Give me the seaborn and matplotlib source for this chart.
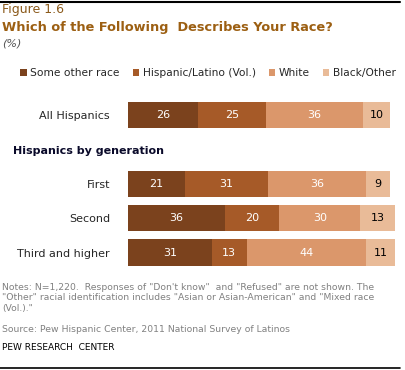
import numpy as np
import pandas as pd
import seaborn as sns
import matplotlib.pyplot as plt
from matplotlib.patches import Patch
from matplotlib.lines import Line2D

# dados
grupos = ["All Hispanics", "", "First", "Second", "Third and higher"]
categorias = ["Some other race", "Hispanic/Latino (Vol.)", "White", "Black/Other"]
some_other = [26, np.nan, 21, 36, 31]
hispanic_latino = [25, np.nan, 31, 20, 13]
white = [36, np.nan, 36, 30, 44]
black_other = [10, np.nan, 9, 13, 11]

cores = ["#7B421D", "#A65A28", "#DB976B", "#E9BB98"]
cor_texto = ["white", "white", "white", "black"]

df = pd.DataFrame({"grupo": grupos,
                   categorias[0]: some_other,
                   categorias[1]: hispanic_latino,
                   categorias[2]: white,
                   categorias[3]: black_other})
acum = df[categorias].cumsum(axis=1)

sns.set_style("white")
plt.rcParams['font.family'] = ['DejaVu Sans']

fig = plt.figure(figsize=(4.05, 3.70), dpi=100)
W, H = 405, 370
ax = fig.add_axes([128 / W, 1 - 269.7 / H, 270 / W, 171.9 / H])

# barras empilhadas: desenha do total acumulado maior para o menor
for i in range(len(categorias) - 1, -1, -1):
    sns.barplot(x=acum[categorias[i]], y=df["grupo"], order=grupos, orient="h",
                color=cores[i], width=0.77, saturation=1, linewidth=0, ax=ax)

for i, cat in enumerate(categorias):
    for j, v in enumerate(df[cat]):
        if np.isnan(v):
            continue
        centro = acum[cat][j] - v / 2
        ax.text(centro, j, f"{v:.0f}", ha="center", va="center",
                color=cor_texto[i], fontsize=8)

ax.set_xlim(0, 100)
ax.set_ylim(4.5, -0.5)
ax.set_xlabel("")
ax.set_ylabel("")
ax.set_xticks([])
ax.tick_params(axis="y", length=0, pad=13, labelsize=8)
for s in ax.spines.values():
    s.set_visible(False)

# títulos
fig.text(2 / W, 1 - 10 / H, "Figure 1.6", color="#8B5A1B", fontsize=9, va="center")
fig.text(2 / W, 1 - 28 / H, "Which of the Following  Describes Your Race?",
         color="#9C5F12", fontsize=9.3, fontweight="bold", va="center")
fig.text(2 / W, 1 - 43 / H, "(%)", color="#555555", fontsize=8, style="italic", va="center")
fig.text(13 / W, 1 - 151 / H, "Hispanics by generation", color="#0A0A2A",
         fontsize=8, fontweight="bold", va="center")

# legenda
handles = [Patch(facecolor=c, edgecolor="none") for c in cores]
fig.legend(handles, categorias, loc="center", bbox_to_anchor=(208 / W, 1 - 73 / H),
           ncol=4, frameon=False, fontsize=7.7, handlelength=0.6, handleheight=0.6,
           handletextpad=0.3, columnspacing=1.25)

# notas
cinza = "#808080"
fig.text(2 / W, 1 - 283 / H,
         "Notes: N=1,220.  Responses of \"Don't know\"  and \"Refused\" are not shown. The\n"
         "\"Other\" racial identification includes \"Asian or Asian-American\" and \"Mixed race\n"
         "(Vol.).\"",
         color=cinza, fontsize=6.7, va="top", linespacing=1.2)
fig.text(2 / W, 1 - 329 / H, "Source: Pew Hispanic Center, 2011 National Survey of Latinos",
         color=cinza, fontsize=6.7, va="center")
fig.text(2 / W, 1 - 348 / H, "PEW RESEARCH  CENTER", color="black", fontsize=6.5, va="center")

# linhas de topo e rodapé
fig.add_artist(Line2D([0, 400 / W], [1 - 1.5 / H, 1 - 1.5 / H], color="black", lw=1.5))
fig.add_artist(Line2D([0, 400 / W], [1 - 368 / H, 1 - 368 / H], color="black", lw=1.2))

fig.savefig("out.png", dpi=100)
